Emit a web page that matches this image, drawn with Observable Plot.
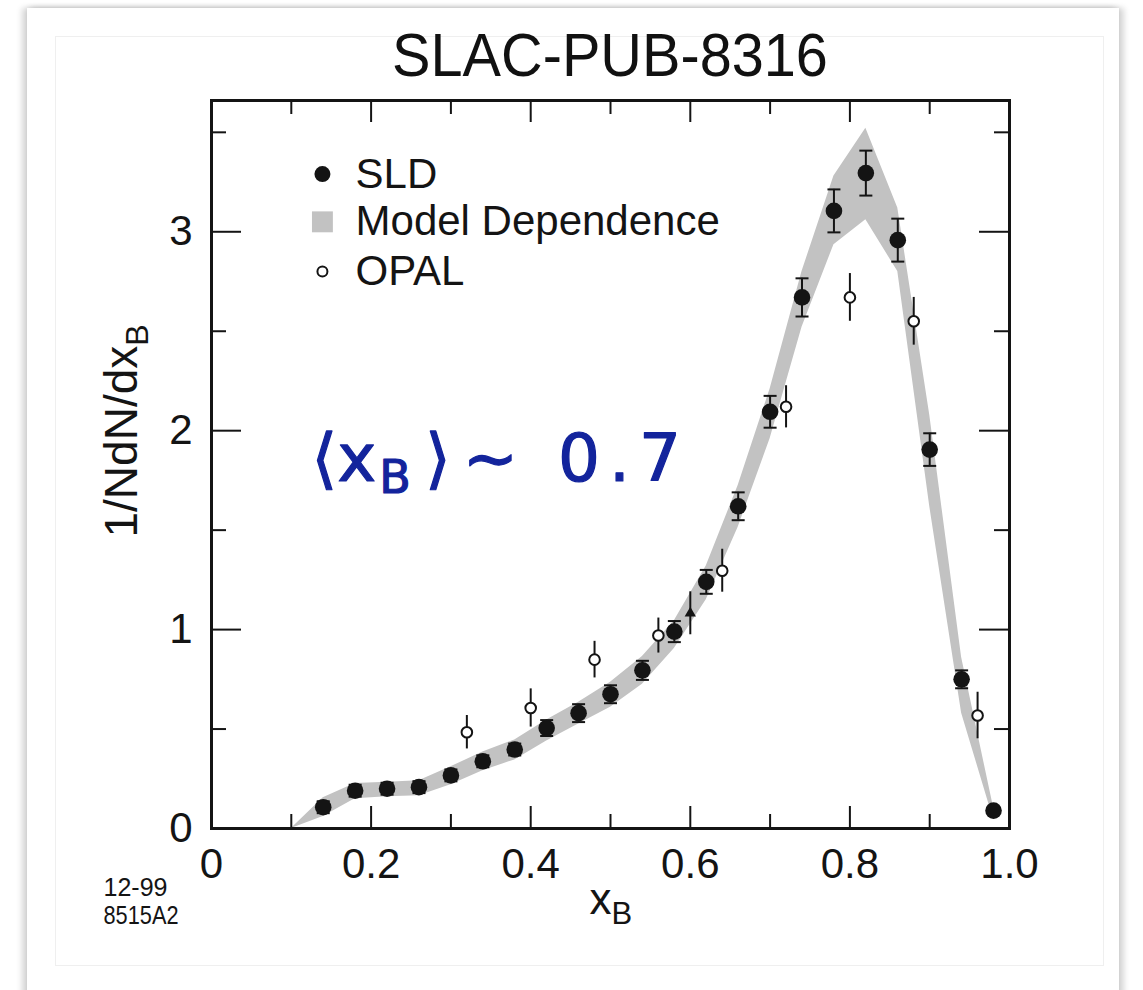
<!DOCTYPE html>
<html>
<head>
<meta charset="utf-8">
<script src="https://cdn.jsdelivr.net/npm/d3@7"></script>
<script src="https://cdn.jsdelivr.net/npm/@observablehq/plot@0.6"></script>
<style>
  html, body { margin: 0; padding: 0; background: #ffffff; }
  body { width: 1143px; height: 990px; overflow: hidden; position: relative; font-family: "Liberation Sans", Arial, sans-serif; }
  #card { position: absolute; left: 27px; top: 8px; width: 1092px; height: 1010px; background: #fff;
          box-shadow: -5px 0 6px rgba(0,0,0,0.16), 5px 0 6px rgba(0,0,0,0.16), 0 -2px 4px rgba(0,0,0,0.06); }
  #inner { position: absolute; left: 55px; top: 36px; width: 1047px; height: 928px; border: 1px solid #efefef; }
  #title { position: absolute; left: 610px; top: 24px; white-space: nowrap; font-size: 62px; line-height: 62px;
           color: #111; transform: translateX(-50%) scaleX(0.93); transform-origin: center; }
  #chart { position: absolute; left: 0; top: 90px; }
</style>
</head>
<body>
<div id="card"></div>
<div id="inner"></div>
<div id="title">SLAC-PUB-8316</div>
<div id="chart"></div>
<script>
// ---------------- data ----------------
// SLD measurements (filled circles, capped error bars)
const sldX   = [0.14, 0.18, 0.22, 0.26, 0.30, 0.34, 0.38, 0.42, 0.46, 0.50, 0.54, 0.58, 0.62, 0.66, 0.70, 0.74, 0.78, 0.82, 0.86, 0.90, 0.94, 0.98];
const sldY   = [0.107, 0.19, 0.20, 0.208, 0.267, 0.338, 0.397, 0.505, 0.58, 0.675, 0.795, 0.99, 1.24, 1.62, 2.095, 2.67, 3.105, 3.295, 2.958, 1.905, 0.75, 0.09];
const sldErr = [0.03, 0.03, 0.03, 0.03, 0.03, 0.03, 0.03, 0.04, 0.045, 0.045, 0.048, 0.053, 0.06, 0.07, 0.08, 0.096, 0.108, 0.113, 0.108, 0.082, 0.045, 0];

// OPAL measurements (open circles)
const opalX   = [0.32, 0.40, 0.48, 0.56, 0.64, 0.72, 0.80, 0.88, 0.96];
const opalY   = [0.484, 0.606, 0.849, 0.97, 1.296, 2.12, 2.67, 2.55, 0.568];
const opalErr = [0.084, 0.096, 0.092, 0.088, 0.108, 0.106, 0.12, 0.12, 0.117];

// extra small triangle point
const triX = [0.60];
const triY = [1.082];
const triErr = [0.108];

// Model dependence band
const bandX  = [0.10, 0.14, 0.18, 0.22, 0.26, 0.30, 0.34, 0.38, 0.42, 0.46, 0.50, 0.54, 0.58, 0.62, 0.66, 0.70, 0.74, 0.78, 0.82, 0.86, 0.90, 0.94, 0.98];
const bandLo = [0, 0.06, 0.15, 0.16, 0.165, 0.22, 0.29, 0.345, 0.44, 0.525, 0.61, 0.725, 0.905, 1.15, 1.515, 1.96, 2.52, 2.935, 3.06, 2.80, 1.62, 0.58, 0.045];
const bandHi = [0, 0.155, 0.226, 0.232, 0.24, 0.31, 0.385, 0.445, 0.545, 0.635, 0.735, 0.865, 1.045, 1.32, 1.725, 2.21, 2.80, 3.28, 3.52, 3.12, 2.08, 0.86, 0.105];

// axes
const xTickLabels = [0, 0.2, 0.4, 0.6, 0.8, 1.0];
const xMajor = [0.2, 0.4, 0.6, 0.8];
const xMinor = [0.1, 0.3, 0.5, 0.7, 0.9];
const yTickLabels = [0, 1, 2, 3];
const yMajor = [1, 2, 3];
const yMinor = [0.5, 1.5, 2.5, 3.5];

const legendLabels = ["SLD", "Model Dependence", "OPAL"];
const xLabel = "x";
const yLabel = "1/NdN/dx";
const labelSub = "B";
const noteStart = "⟨x";
const noteClose = "⟩";
const noteTilde = "∼";
const noteValue = "0.7";
const footLines = ["12-99", "8515A2"];

// ---------------- build ----------------
const sld  = sldX.map((x, i) => ({x, y: sldY[i], lo: sldY[i] - sldErr[i], hi: sldY[i] + sldErr[i]}));
const opal = opalX.map((x, i) => ({x, y: opalY[i], lo: opalY[i] - opalErr[i], hi: opalY[i] + opalErr[i]}));
const tri  = triX.map((x, i) => ({x, y: triY[i], lo: triY[i] - triErr[i], hi: triY[i] + triErr[i]}));
const band = bandX.map((x, i) => ({x, lo: bandLo[i], hi: bandHi[i]}));

const W = 1143, H = 870, mT = 10, mB = 132, mL = 211, mR = 134;
const frameH = H - mT - mB, frameW = W - mL - mR;
const ink = "#141414";
const grey = "#c2c2c2";
const blue = "#13249c";
const sans = '"Liberation Sans", Arial, sans-serif';
const capSymbol = {draw(ctx) { ctx.moveTo(-6.5, 0); ctx.lineTo(6.5, 0); }};

const legendY = [3.29, 3.05, 2.80];
const sldBars = sld.filter(d => d.hi > d.lo);

const chart = Plot.plot({
  width: W, height: H,
  marginTop: mT, marginBottom: mB, marginLeft: mL, marginRight: mR,
  x: {domain: [0, 1], axis: null},
  y: {domain: [0, 3.66], axis: null},
  style: {fontFamily: sans, color: ink, background: "transparent", overflow: "visible"},
  marks: [
    Plot.areaY(band, {x: "x", y1: "lo", y2: "hi", fill: grey, curve: "linear"}),
    // ticks inward on four sides
    Plot.tickX(xMajor, {x: d => d, insetTop: frameH - 22, stroke: ink, strokeWidth: 2}),
    Plot.tickX(xMajor, {x: d => d, insetBottom: frameH - 22, stroke: ink, strokeWidth: 2}),
    Plot.tickX(xMinor, {x: d => d, insetTop: frameH - 14, stroke: ink, strokeWidth: 2}),
    Plot.tickX(xMinor, {x: d => d, insetBottom: frameH - 14, stroke: ink, strokeWidth: 2}),
    Plot.tickY(yMajor, {y: d => d, insetRight: frameW - 30, stroke: ink, strokeWidth: 2}),
    Plot.tickY(yMajor, {y: d => d, insetLeft: frameW - 30, stroke: ink, strokeWidth: 2}),
    Plot.tickY(yMinor, {y: d => d, insetRight: frameW - 15, stroke: ink, strokeWidth: 2}),
    Plot.tickY(yMinor, {y: d => d, insetLeft: frameW - 15, stroke: ink, strokeWidth: 2}),
    Plot.frame({stroke: ink, strokeWidth: 3}),
    // tick labels
    Plot.text(xTickLabels, {x: d => d, frameAnchor: "bottom", lineAnchor: "top", dy: 20,
      text: d => d === 0 ? "0" : d.toFixed(1), fontSize: 42, fill: ink}),
    Plot.text(yTickLabels, {y: d => d, frameAnchor: "left", textAnchor: "end", dx: -19,
      text: d => String(d), fontSize: 42, fill: ink}),
    // axis labels
    Plot.text([xLabel], {frameAnchor: "bottom", lineAnchor: "middle", textAnchor: "start", dx: -21, dy: 71, fontSize: 44, fill: ink}),
    Plot.text([yLabel], {frameAnchor: "left", lineAnchor: "middle", textAnchor: "start", rotate: -90, dx: -89, dy: 73, fontSize: 46, fill: ink}),
    Plot.text(footLines.slice(0, 1), {frameAnchor: "bottom-left", lineAnchor: "middle", textAnchor: "start", dx: -108, dy: 59,
      fontSize: 25, fill: ink}),
    Plot.text(footLines.slice(1), {frameAnchor: "bottom-left", lineAnchor: "middle", textAnchor: "start", dx: -108, dy: 87,
      fontSize: 25, fill: ink}),
    // OPAL error bars and points
    Plot.ruleX(opal, {x: "x", y1: "lo", y2: "hi", stroke: ink, strokeWidth: 2}),
    Plot.ruleX(tri, {x: "x", y1: "lo", y2: "hi", stroke: ink, strokeWidth: 2}),
    Plot.dot(tri, {x: "x", y: "y", symbol: "triangle", r: 4.2, fill: ink}),
    Plot.dot(opal, {x: "x", y: "y", r: 5.3, fill: "#fff", stroke: ink, strokeWidth: 2}),
    // SLD error bars, caps and points
    Plot.ruleX(sldBars, {x: "x", y1: "lo", y2: "hi", stroke: ink, strokeWidth: 2}),
    Plot.dot(sldBars, {x: "x", y: "lo", symbol: capSymbol, stroke: ink, strokeWidth: 2, fill: "none"}),
    Plot.dot(sldBars, {x: "x", y: "hi", symbol: capSymbol, stroke: ink, strokeWidth: 2, fill: "none"}),
    Plot.dot(sld, {x: "x", y: "y", r: 8.3, fill: ink}),
    // legend
    Plot.dot([legendLabels[0]], {x: 0.139, y: legendY[0], r: 8, fill: ink}),
    Plot.dot([legendLabels[1]], {x: 0.139, y: legendY[1], symbol: "square", r: 11.8, fill: grey}),
    Plot.dot([legendLabels[2]], {x: 0.139, y: legendY[2], r: 5, fill: "#fff", stroke: ink, strokeWidth: 2}),
    Plot.text(legendLabels, {x: 0.1805, y: (d, i) => legendY[i], textAnchor: "start", fontSize: 42, fill: ink}),
    // handwritten note
    Plot.text([noteStart], {frameAnchor: "top-left", lineAnchor: "middle", textAnchor: "start", dx: 100, dy: 359,
      fontSize: 66, fontFamily: '"DejaVu Sans", sans-serif', fill: blue, stroke: blue, strokeWidth: 1.2})
  ]
});

// subscripts / spacing as tspans, condensed footer lines
d3.select(chart).selectAll("text").each(function () {
  const t = d3.select(this);
  const s = this.textContent;
  if (s === yLabel) {
    t.append("tspan").attr("dy", "0.34em").attr("font-size", "32px").text(labelSub);
  } else if (s === xLabel) {
    t.append("tspan").attr("dy", "0.34em").attr("font-size", "31px").text(labelSub);
  } else if (s === noteStart) {
    t.append("tspan").attr("dx", 3).attr("dy", 12).attr("font-size", "46px").text(labelSub);
    t.append("tspan").attr("dx", 14).attr("dy", -12).attr("font-size", "66px").text(noteClose);
    t.append("tspan").attr("dx", 12).text(noteTilde);
    t.append("tspan").attr("dx", 40).attr("letter-spacing", "9px").text(noteValue);
  } else if (s === footLines[0]) {
    t.attr("textLength", 64).attr("lengthAdjust", "spacingAndGlyphs");
  } else if (s === footLines[1]) {
    t.attr("textLength", 75).attr("lengthAdjust", "spacingAndGlyphs");
  }
});

document.getElementById("chart").appendChild(chart);
</script>
</body>
</html>
